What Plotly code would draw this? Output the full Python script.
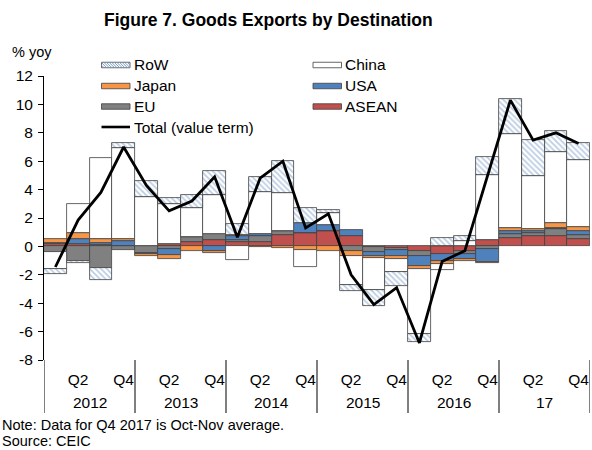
import plotly.graph_objects as go

# ---------------- data ----------------
years = ["2012", "2013", "2014", "2015", "2016", "17"]
quarters = ["Q1", "Q2", "Q3", "Q4"]
quarter_ticks = ["", "Q2", "", "Q4"]

asean = [0.20, 0.20, 0.10, 0.05, 0.05, 0.15, 0.30, 0.47, 0.30, 0.30, 0.82, 0.93,
         1.05, 0.74, -0.05, -0.10, -0.35, -0.55, -0.35, 0.45, 0.60, 0.75, 0.75, 0.50]
eu = [-0.42, -1.00, -1.54, -0.25, -0.47, -0.20, 0.35, 0.40, 0.15, 0.45, 0.30, 0.00,
      0.00, -0.35, -0.35, -0.15, -0.30, 0.00, -0.15, -0.20, 0.28, 0.20, 0.45, 0.30]
usa = [0.05, 0.35, 0.15, 0.30, -0.05, -0.40, 0.00, -0.30, 0.30, 0.10, 0.00, 0.70,
       0.47, 0.42, -0.30, -0.45, -0.75, -0.50, -0.40, -0.90, 0.24, 0.10, 0.12, 0.25]
japan = [0.25, 0.38, 0.30, 0.15, -0.19, -0.30, -0.30, -0.17, 0.06, -0.05, -0.10, -0.28,
         -0.35, -0.30, -0.10, -0.20, -0.20, -0.20, -0.15, -0.10, 0.15, 0.20, 0.33, 0.35]
china = [-1.18, 2.05, 5.65, 6.45, 3.40, 2.83, 2.05, 2.77, -0.95, 2.97, 2.64, -1.15,
         0.83, -2.07, -2.27, -0.90, -4.60, -0.40, 0.40, 4.60, 6.66, 3.68, 5.00, 4.70]
row = [-0.33, -0.20, -0.83, 0.35, 1.18, 0.42, 0.94, 1.65, 0.78, 1.06, 2.23, 1.06,
       0.23, -0.40, -1.13, -1.00, -0.55, 0.59, 0.35, 1.25, 2.42, 2.55, 1.51, 1.18]
total = [-1.45, 1.85, 3.80, 7.00, 4.30, 2.50, 3.20, 4.90, 0.65, 4.80, 6.00, 1.30,
         2.30, -2.00, -4.10, -2.90, -6.80, -1.07, -0.30, 5.00, 10.30, 7.48, 8.00, 7.24]

y_ticks = [12, 10, 8, 6, 4, 2, 0, -2, -4, -6, -8]

# ---------------- layout helpers ----------------
W, H = 592, 450
L, R, T, B = 44, 2, 76, 90
PW, PH = W - L - R, H - T - B


def px(x):
    return (x - L) / PW


def py(y):
    return (H - B - y) / PH


FONT = "Liberation Sans, Arial, sans-serif"
TICK_SIZE = 15.5
LEG_SIZE = 15.5
NOTE_SIZE = 14.5

periods = [f"{y} {q}" for y in years for q in quarters]
tick_vals = [f"{y} {q}" for y in years for q, t in zip(quarters, quarter_ticks) if t]
tick_text = [t for _ in years for t in quarter_ticks if t]

fig = go.Figure()
line_style = dict(color="#404040", width=0.8)

series = [
    ("ASEAN", asean, dict(color="#C0504D", line=line_style)),
    ("EU", eu, dict(color="#808080", line=line_style)),
    ("USA", usa, dict(color="#4F81BD", line=line_style)),
    ("Japan", japan, dict(color="#F79646", line=line_style)),
    ("China", china, dict(color="#FFFFFF", line=line_style)),
    ("RoW", row, dict(color="#FFFFFF", line=line_style,
                      pattern=dict(shape="\\", fgcolor="#7A9CC6", bgcolor="#FFFFFF",
                                   size=4, solidity=0.45))),
]
for name, vals, marker in series:
    fig.add_trace(go.Bar(x=periods, y=vals, name=name, marker=marker, showlegend=False))

fig.add_trace(go.Scatter(x=periods, y=total, name="Total (value term)", mode="lines",
                         line=dict(color="black", width=2.8), showlegend=False))

shapes = []
annotations = []

# year group labels and dividers (category positions on the x axis)
nq = len(quarters)
for i, yr in enumerate(years):
    annotations.append(dict(text=yr, xref="x", yref="paper", x=i * nq + (nq - 1) / 2,
                            y=py(402), xanchor="center", yanchor="middle", showarrow=False,
                            font=dict(family=FONT, size=TICK_SIZE, color="black")))
for i in range(len(years) + 1):
    shapes.append(dict(type="line", xref="x", yref="paper", x0=i * nq - 0.5, x1=i * nq - 0.5,
                       y0=0, y1=py(413), line=dict(color="black", width=1)))

# ---------------- manual legend ----------------
legend_items = [
    ("RoW", "hatch", 101.5, 65),
    ("Japan", "#F79646", 101.5, 86),
    ("EU", "#808080", 101.5, 106.5),
    ("Total (value term)", "line", 101.5, 127),
    ("China", "#FFFFFF", 313, 65),
    ("USA", "#4F81BD", 313, 86),
    ("ASEAN", "#C0504D", 313, 106.5),
]
sw, sh = 28.5, 5.5
for label, kind, x0, yc in legend_items:
    if kind == "line":
        shapes.append(dict(type="line", xref="paper", yref="paper",
                           x0=px(x0), x1=px(x0 + sw), y0=py(yc), y1=py(yc),
                           line=dict(color="black", width=2.6)))
    else:
        fill = "#FFFFFF" if kind == "hatch" else kind
        shapes.append(dict(type="rect", xref="paper", yref="paper",
                           x0=px(x0), x1=px(x0 + sw), y0=py(yc + sh / 2), y1=py(yc - sh / 2),
                           fillcolor=fill, line=dict(color="#404040", width=0.8)))
        if kind == "hatch":
            path = ""
            top, bot = yc - sh / 2, yc + sh / 2
            xs = x0 - sh
            while xs < x0 + sw:
                xa, ya = xs, top
                xb, yb = xs + sh, bot
                if xa < x0:
                    ya = top + (x0 - xa)
                    xa = x0
                if xb > x0 + sw:
                    yb = bot - (xb - (x0 + sw))
                    xb = x0 + sw
                if xb > xa:
                    path += f"M{px(xa)},{py(ya)} L{px(xb)},{py(yb)} "
                xs += 2.6
            shapes.append(dict(type="path", xref="paper", yref="paper", path=path,
                               line=dict(color="#7A9CC6", width=1)))
    annotations.append(dict(text=label, xref="paper", yref="paper",
                            x=px(x0 + sw + 1.5), y=py(yc), xanchor="left", yanchor="middle",
                            showarrow=False, font=dict(family=FONT, size=LEG_SIZE, color="black")))

annotations += [
    dict(text="<b>Figure 7. Goods Exports by Destination</b>", xref="paper", yref="paper",
         x=px(268), y=py(20), xanchor="center", yanchor="middle", showarrow=False,
         font=dict(family=FONT, size=17.5, color="black")),
    dict(text="% yoy", xref="paper", yref="paper", x=px(10), y=py(52),
         xanchor="left", yanchor="middle", showarrow=False,
         font=dict(family=FONT, size=14.5, color="black")),
    dict(text="Note: Data for Q4 2017 is Oct-Nov average.", xref="paper", yref="paper",
         x=px(0), y=py(425), xanchor="left", yanchor="middle", showarrow=False,
         font=dict(family=FONT, size=NOTE_SIZE, color="black")),
    dict(text="Source: CEIC", xref="paper", yref="paper", x=px(0), y=py(441),
         xanchor="left", yanchor="middle", showarrow=False,
         font=dict(family=FONT, size=NOTE_SIZE, color="black")),
]

fig.update_layout(
    width=W, height=H,
    margin=dict(l=L, r=R, t=T, b=B, autoexpand=False),
    paper_bgcolor="white", plot_bgcolor="white",
    barmode="relative", bargap=0,
    font=dict(family=FONT, size=14, color="black"),
    shapes=shapes, annotations=annotations,
    showlegend=False,
)
fig.update_xaxes(type="category", range=[-0.5, len(periods) - 0.5],
                 tickvals=tick_vals, ticktext=tick_text, tickangle=0,
                 showgrid=False, zeroline=False, showline=False,
                 ticks="outside", ticklen=5, tickcolor="rgba(0,0,0,0)",
                 tickfont=dict(family=FONT, size=TICK_SIZE, color="black"), automargin=False)
fig.update_yaxes(range=[-8, 12], tickvals=y_ticks, ticktext=[str(v) for v in y_ticks],
                 showgrid=False, zeroline=False, showline=True, linecolor="black",
                 linewidth=1, ticks="outside", ticklen=5, tickcolor="black",
                 ticklabelstandoff=2,
                 tickfont=dict(family=FONT, size=TICK_SIZE, color="black"), automargin=False)

fig.write_html("out.html", config={"displayModeBar": False},
               post_script="document.body.style.margin='0';document.body.style.overflow='hidden';")
